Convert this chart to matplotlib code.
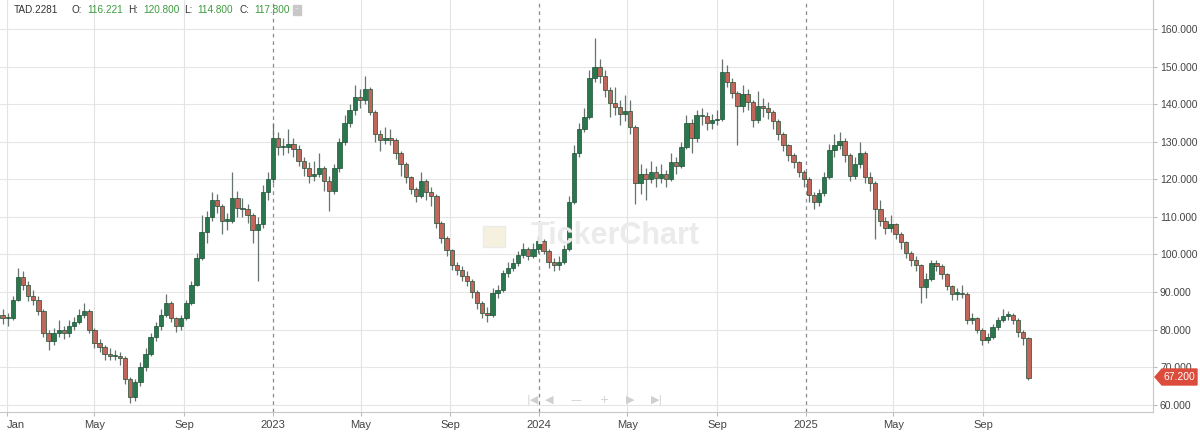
import numpy as np
import pandas as pd
import matplotlib
matplotlib.use("Agg")
from matplotlib import pyplot as plt
import matplotlib.dates as mdates
from matplotlib.patches import Polygon, Rectangle

plt.rcParams['font.family'] = ['Liberation Sans', 'DejaVu Sans']

# weekly candles (TAD.2281)
week_start = "2021-12-26"
first_open = 84.0

close = [83.0, 83.0, 88.0, 94.0, 92.0, 89.0, 88.0, 85.0, 79.0, 77.0,
         79.0, 80.0, 79.0, 81.0, 82.0, 84.0, 85.0, 80.0, 76.5, 75.5,
         73.5, 73.0, 73.0, 72.5, 67.0, 62.0, 66.0, 70.0, 73.5, 78.0,
         81.0, 84.0, 87.0, 83.0, 81.0, 83.0, 87.0, 92.0, 99.0, 106.0,
         110.0, 114.5, 113.0, 109.0, 109.0, 115.0, 112.5, 112.0, 110.5, 106.5,
         108.0, 116.5, 120.0, 131.0, 128.5, 128.5, 129.5, 128.0, 125.0, 123.0,
         121.0, 121.5, 123.0, 119.5, 117.0, 123.0, 130.0, 135.0, 138.5, 142.0,
         141.0, 144.0, 138.0, 132.0, 130.5, 131.0, 130.5, 127.0, 124.0, 120.5,
         117.5, 115.5, 119.5, 116.5, 115.5, 108.5, 104.5, 101.2, 97.3, 96.0,
         94.2, 93.0, 90.0, 87.0, 84.5, 84.0, 89.8, 90.5, 95.0, 96.5,
         97.8, 99.8, 101.5, 99.6, 101.5, 103.5, 101.0, 98.0, 97.3, 98.0,
         101.5, 114.0, 127.0, 133.5, 136.5, 147.0, 150.0, 147.5, 143.8, 140.3,
         139.2, 137.5, 138.3, 134.0, 119.0, 121.5, 120.0, 122.0, 120.3, 121.5,
         120.0, 124.5, 123.5, 128.6, 135.0, 131.0, 137.0, 136.8, 135.0, 135.8,
         136.0, 148.5, 146.0, 143.0, 139.5, 142.8, 140.5, 135.8, 139.5, 139.0,
         137.8, 135.5, 132.0, 129.2, 126.5, 124.5, 122.0, 120.0, 115.8, 114.0,
         116.3, 120.5, 127.8, 129.0, 130.3, 126.5, 121.0, 124.0, 127.0, 120.5,
         119.0, 112.0, 109.0, 107.0, 108.0, 105.5, 103.2, 100.3, 98.6, 97.2,
         91.4, 93.5, 97.7, 97.0, 94.8, 91.7, 89.6, 89.6, 89.5, 82.6,
         83.0, 80.0, 77.3, 78.0, 80.8, 82.7, 83.7, 84.0, 82.6, 79.3,
         77.8, 67.2]

high = [85.5, 84.5, 89.0, 96.5, 95.5, 93.0, 90.5, 89.0, 85.5, 80.0,
        80.5, 82.5, 81.0, 82.5, 83.5, 85.5, 87.0, 85.5, 80.5, 77.5,
        76.0, 75.0, 74.5, 74.0, 73.0, 67.5, 67.0, 71.5, 75.0, 79.0,
        82.0, 85.5, 89.5, 87.5, 83.5, 84.0, 88.0, 93.0, 100.5, 110.5,
        111.5, 116.5, 116.0, 113.5, 111.0, 122.0, 117.0, 115.0, 113.5, 111.0,
        110.0, 118.5, 122.0, 135.0, 132.5, 131.0, 133.5, 131.0, 129.0, 126.0,
        124.5, 125.0, 127.0, 123.5, 121.0, 124.0, 131.0, 137.0, 140.0, 145.0,
        144.0, 147.5, 144.5, 138.5, 133.0, 134.0, 133.5, 131.0, 127.5, 124.5,
        121.0, 118.0, 122.0, 120.0, 118.0, 116.0, 109.0, 105.0, 101.5, 98.0,
        97.0, 95.5, 93.5, 90.5, 87.5, 86.0, 91.0, 92.0, 96.0, 98.0,
        99.0, 101.0, 103.0, 102.0, 103.0, 105.0, 104.0, 101.5, 99.0, 99.5,
        102.5, 115.5, 129.0, 135.0, 139.0, 149.0, 157.5, 152.0, 149.0, 144.5,
        144.5, 141.0, 142.5, 141.0, 134.5, 124.0, 123.0, 125.0, 123.5, 124.0,
        122.5, 127.0, 126.0, 130.0, 137.0, 136.0, 138.5, 139.0, 138.0, 137.5,
        138.5, 152.0, 150.5, 147.0, 143.5, 145.0, 144.0, 141.0, 143.5, 141.5,
        140.5, 138.5, 136.0, 132.5, 129.5, 127.0, 125.0, 122.5, 120.5, 116.5,
        117.5, 122.0, 129.5, 132.0, 132.5, 131.0, 127.0, 126.0, 130.0, 127.5,
        122.0, 119.5, 114.5, 110.0, 110.5, 108.5, 106.0, 103.5, 101.0, 99.5,
        97.5, 95.0, 98.5, 98.5, 97.5, 95.0, 92.0, 91.0, 92.0, 90.0,
        84.5, 83.5, 80.5, 79.0, 81.5, 83.5, 85.5, 85.0, 84.5, 83.0,
        79.8, 78.0]

low = [81.5, 81.0, 82.5, 87.5, 90.5, 87.5, 86.5, 84.0, 78.0, 74.5,
       76.0, 78.0, 77.5, 78.0, 80.0, 81.5, 83.0, 79.0, 75.0, 74.0,
       72.0, 72.0, 72.0, 70.5, 65.5, 60.5, 61.0, 65.0, 69.0, 73.0,
       77.0, 80.0, 83.5, 82.0, 79.5, 80.0, 82.5, 86.5, 91.5, 98.5,
       103.0, 109.0, 111.0, 105.5, 106.5, 108.5, 110.0, 110.0, 108.5, 103.0,
       93.0, 107.0, 114.5, 119.0, 126.5, 126.5, 127.0, 126.0, 123.5, 121.0,
       119.0, 119.5, 120.5, 117.0, 111.5, 116.0, 122.0, 129.0, 134.0, 137.0,
       139.0, 140.0, 137.0, 130.0, 127.5, 129.5, 129.0, 125.5, 121.0, 119.0,
       116.0, 114.0, 115.0, 114.5, 113.0, 107.0, 103.0, 99.5, 96.0, 94.5,
       93.0, 91.5, 88.5, 85.5, 83.0, 82.0, 83.5, 88.5, 90.0, 94.0,
       95.5, 97.0, 99.0, 98.5, 99.0, 100.5, 100.0, 96.5, 95.5, 96.0,
       97.5, 101.0, 113.5, 126.0, 132.5, 136.0, 146.0, 145.5, 142.0, 136.5,
       137.0, 134.5, 135.5, 132.0, 113.5, 116.0, 114.5, 119.0, 118.0, 119.0,
       118.0, 119.5, 121.5, 123.0, 128.0, 127.0, 130.0, 134.5, 133.0, 133.5,
       134.5, 135.5, 144.5, 141.5, 129.0, 138.0, 138.5, 134.0, 135.0, 136.5,
       136.0, 133.5, 130.5, 127.5, 125.0, 123.0, 120.5, 118.0, 114.0, 112.0,
       113.0, 115.5, 120.0, 126.0, 128.0, 124.5, 119.5, 120.0, 123.0, 119.0,
       117.0, 104.0, 107.5, 105.5, 106.0, 104.0, 101.5, 99.0, 97.0, 95.5,
       87.0, 88.5, 93.0, 95.5, 93.5, 90.5, 88.0, 88.0, 88.5, 81.5,
       81.5, 79.0, 76.0, 76.5, 77.5, 80.0, 82.0, 82.5, 81.5, 78.0,
       76.0, 66.5]

tick_dates = ["2022-01-01", "2022-05-01", "2022-09-01", "2023-01-01", "2023-05-01", "2023-09-01",
              "2024-01-01", "2024-05-01", "2024-09-01", "2025-01-01", "2025-05-01", "2025-09-01"]
tick_labels = ["Jan", "May", "Sep", "2023", "May", "Sep", "2024", "May", "Sep", "2025", "May", "Sep"]
price_ticks = [60, 70, 80, 90, 100, 110, 120, 130, 140, 150, 160]

header = [("TAD.2281", 14, "#333333"), ("O:", 72, "#333333"), ("116.221", 87, "#3d9a3d"),
          ("H:", 128, "#333333"), ("120.800", 143, "#3d9a3d"), ("L:", 184, "#333333"),
          ("114.800", 197, "#3d9a3d"), ("C:", 240, "#333333"), ("117.800", 254, "#3d9a3d")]
last_price = 67.2

dates = pd.date_range(week_start, periods=len(close), freq="7D")
x = mdates.date2num(dates)
o = np.r_[first_open, close[:-1]]
c = np.array(close)
up = c >= o

W, H = 1200, 433
fig = plt.figure(figsize=(W / 100, H / 100), dpi=100)
ax = fig.add_axes([0, 21 / H, 1153 / W, 412 / H])

d0 = mdates.date2num(pd.Timestamp("2022-01-01"))
ax.set_xlim(d0 - 9.6, d0 + 1572)
ax.set_ylim(58.1, 167.7)

# grid
for p in price_ticks:
    ax.axhline(p, color="#e6e6e6", lw=0.8, zorder=0)
for d, lab in zip(tick_dates, tick_labels):
    xd = mdates.date2num(pd.Timestamp(d))
    if lab.isdigit():
        ax.axvline(xd, color="#8c8c8c", lw=0.9, ls=(0, (3, 3)), zorder=0)
    else:
        ax.axvline(xd, color="#e3e3e3", lw=0.8, zorder=0)

# candles
ax.vlines(x, low, high, color="#66746b", lw=0.9, zorder=2)
body_lo = np.minimum(o, c)
body_h = np.maximum(np.abs(c - o), 0.35)
ax.bar(x, body_h, bottom=body_lo, width=6.0, color=np.where(up, "#2a774d", "#c0665b"),
       edgecolor="#1d4f35", linewidth=0.5, zorder=3)

# axes styling
for s in ["top", "left"]:
    ax.spines[s].set_visible(False)
ax.spines["bottom"].set_color("#c8c8c8")
ax.spines["right"].set_color("#c8c8c8")
ax.yaxis.tick_right()
ax.set_yticks(price_ticks)
ax.set_yticklabels(["%.3f" % p for p in price_ticks])
ax.tick_params(axis="y", length=3, color="#bbbbbb", labelsize=7.5, labelcolor="#444444", pad=2)
ax.set_xticks([mdates.date2num(pd.Timestamp(d)) for d in tick_dates])
ax.set_xticklabels(tick_labels)
ax.tick_params(axis="x", length=3, color="#bbbbbb", labelsize=8, labelcolor="#444444", pad=3)
ax.get_xticklabels()[0].set_horizontalalignment("left")

# header line
for txt, px, col in header:
    fig.text(px / W, 1 - 10 / H, txt, color=col, fontsize=7.2, va="center", ha="left")
fig.patches.append(Rectangle((293 / W, 1 - 15 / H), 8 / W, 10 / H, transform=fig.transFigure,
                             color="#c8c8c8"))
fig.text(297 / W, 1 - 10 / H, "··", color="white", fontsize=5, ha="center", va="center")

# watermark and nav controls
fig.text(615 / W, 1 - 236 / H, "TickerChart", color="#ebebeb", fontsize=22, fontweight="bold",
         ha="center", va="center", zorder=0)
fig.patches.append(Rectangle((483 / W, 1 - 247 / H), 22 / W, 21 / H, transform=fig.transFigure,
                             facecolor="#f6f1df", edgecolor="#ebebeb", zorder=0))
for sym, px in [("|◀", 533), ("◀", 549), ("—", 576), ("+", 604), ("▶", 630), ("▶|", 657)]:
    fig.text(px / W, 1 - 400 / H, sym, color="#d0d0d0", fontsize=8, ha="center", va="center",
             family=["DejaVu Sans"])

# last price tag
tag_y = 1 - 377 / H
fig.patches.append(Polygon([(1155 / W, tag_y), (1162 / W, 1 - 369 / H), (1197 / W, 1 - 369 / H),
                            (1197 / W, 1 - 385 / H), (1162 / W, 1 - 385 / H)],
                           closed=True, transform=fig.transFigure, color="#dc4c3c"))
fig.text(1179 / W, tag_y, "%.3f" % last_price, color="white", fontsize=7.5, ha="center", va="center")

fig.savefig("out.png", dpi=100)
